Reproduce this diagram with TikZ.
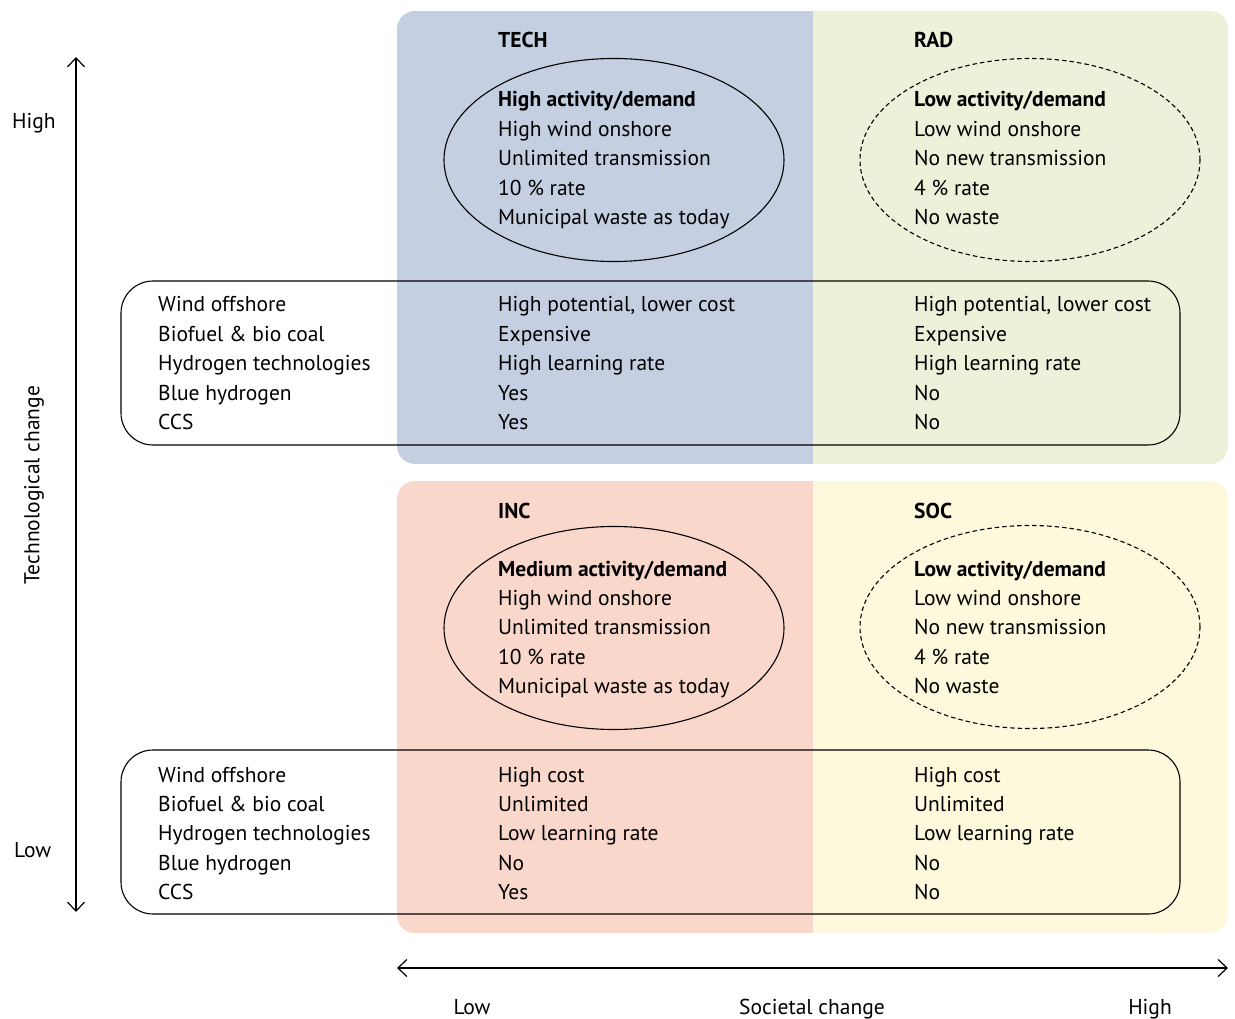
\documentclass[tikz,border=0pt]{standalone}
\usepackage{fontspec}
\setmainfont{PT Sans}
\usetikzlibrary{arrows.meta,shapes.geometric,positioning}

\definecolor{techblue}{RGB}{197,207,226}
\definecolor{radgreen}{RGB}{238,240,218}
\definecolor{incpink}{RGB}{249,215,203}
\definecolor{socyellow}{RGB}{254,249,220}

\begin{document}
\begin{tikzpicture}[x=1pt,y=-1pt]

\tikzset{
  txt/.style={font=\fontsize{21.5}{24}\selectfont, inner sep=0pt, anchor=base west},
  head/.style={txt, font=\fontsize{21.5}{24}\selectfont\bfseries},
  scen/.style={ellipse, draw=black, line width=1.1pt,
               minimum width=340, minimum height=203, inner sep=0pt},
  scendash/.style={scen, dash pattern=on 4.5pt off 3pt},
  techbox/.style={draw=black, line width=1.1pt, rounded corners=32},
  axis/.style={line width=1.2pt, {Straight Barb[length=9pt,width=17pt]}-{Straight Barb[length=9pt,width=17pt]}}
}

\newcommand{\itemlines}[4]{
  \foreach \t [count=\i] in {#4} {
    \node[txt] (#1-\i) at (#2, #3+29.4*\i-29.4) {\t};
  }
}

\useasboundingbox (0,0) rectangle (1235,1019);

% Quadrants
\begin{scope}
  \clip[rounded corners=18] (397,11) rectangle (1228,464);
  \fill[techblue] (397,11) rectangle (813,464);
  \fill[radgreen] (813,11) rectangle (1228,464);
\end{scope}
\begin{scope}
  \clip[rounded corners=18] (397,481) rectangle (1228,933);
  \fill[incpink] (397,481) rectangle (813,933);
  \fill[socyellow] (813,481) rectangle (1228,933);
\end{scope}

\node[head] (tech) at (498,48) {TECH};
\node[head] (rad) at (914,48) {RAD};
\node[head] (inc) at (498,518) {INC};
\node[head] (soc) at (914,518) {SOC};

% Scenario ellipses
\node[scen] (techell) at (614,160) {};
\node[scendash] (radell) at (1030,160) {};
\node[scen] (incell) at (614,628) {};
\node[scendash] (socell) at (1030,627) {};

\itemlines{techtxt}{498}{107}{\textbf{High activity/demand}, High wind onshore, Unlimited transmission, 10~\% rate, Municipal waste as today}
\itemlines{radtxt}{914}{107}{\textbf{Low activity/demand}, Low wind onshore, No new transmission, 4~\% rate, No waste}
\itemlines{inctxt}{498}{576}{\textbf{Medium activity/demand}, High wind onshore, Unlimited transmission, 10~\% rate, Municipal waste as today}
\itemlines{soctxt}{914}{576}{\textbf{Low activity/demand}, Low wind onshore, No new transmission, 4~\% rate, No waste}

% Technology boxes
\draw[techbox] (121,281) rectangle (1180,445);
\draw[techbox] (121,750) rectangle (1180,914);

\itemlines{hiname}{158}{312}{Wind offshore, Biofuel \& bio coal, Hydrogen technologies, Blue hydrogen, CCS}
\itemlines{hitech}{498}{312}{{High potential, lower cost}, Expensive, High learning rate, Yes, Yes}
\itemlines{hirad}{914}{312}{{High potential, lower cost}, Expensive, High learning rate, No, No}
\itemlines{loname}{158}{782}{Wind offshore, Biofuel \& bio coal, Hydrogen technologies, Blue hydrogen, CCS}
\itemlines{loinc}{498}{782}{High cost, Unlimited, Low learning rate, No, Yes}
\itemlines{losoc}{914}{782}{High cost, Unlimited, Low learning rate, No, No}

% Axes
\coordinate (vtop) at (76,57);
\coordinate (vbot) at (76,912);
\draw[axis] (vbot) -- (vtop);
\node[txt] (vhigh) at (12,129) {High};
\node[txt] (vlow) at (14,857) {Low};
\node[txt, anchor=center, rotate=90] (vlabel) at (34,485) {Technological change};

\coordinate (hleft) at (397,968);
\coordinate (hright) at (1228,968);
\draw[axis] (hleft) -- (hright);
\node[txt, anchor=base] (hlow) at (472,1014) {Low};
\node[txt, anchor=base] (hlabel) at (812,1014) {Societal change};
\node[txt, anchor=base] (hhigh) at (1150,1014) {High};

\end{tikzpicture}
\end{document}
